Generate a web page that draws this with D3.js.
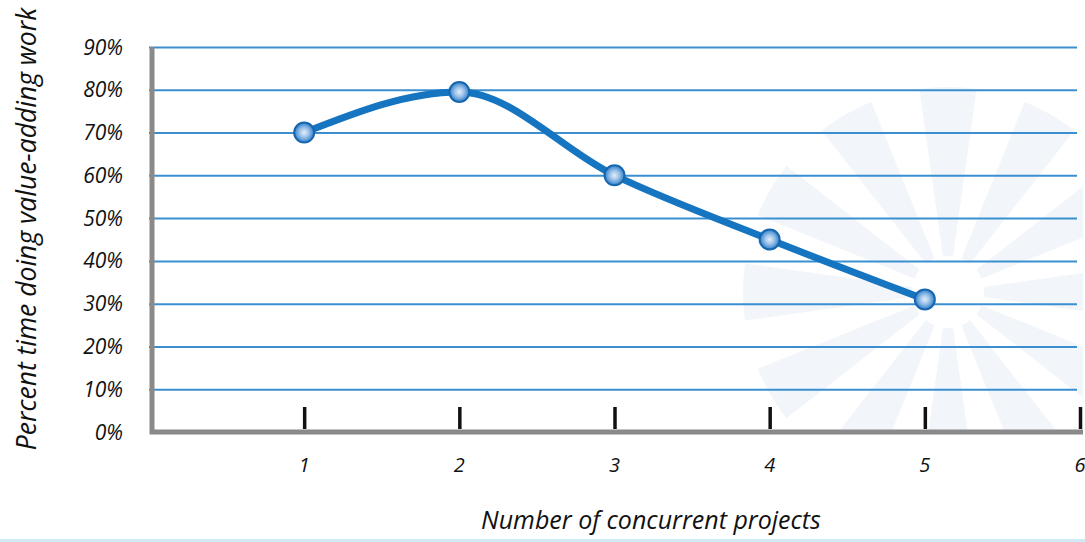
<!DOCTYPE html>
<html>
<head>
<meta charset="utf-8">
<script src="https://cdn.jsdelivr.net/npm/d3@7/dist/d3.min.js"></script>
<style>
  html, body { margin: 0; padding: 0; background: #ffffff; }
  svg { display: block; }
  text { font-family: "Open Sans", "DejaVu Sans", sans-serif; fill: #111; }
</style>
</head>
<body>
<svg id="chart" width="1085" height="542"></svg>
<script>
// Number of concurrent projects vs. share of time spent on value-adding work
const projects = [1, 2, 3, 4, 5];
const valuePct = [70, 79.5, 60, 45, 31];
const xTicks = [1, 2, 3, 4, 5, 6];
const yTicks = [0, 10, 20, 30, 40, 50, 60, 70, 80, 90];
const xTitle = "Number of concurrent projects";
const yTitle = "Percent time doing value-adding work";

const svg = d3.select("#chart");

const x = d3.scaleLinear().domain([0, 6]).range([149, 1080]);
const y = d3.scaleLinear().domain([0, 90]).range([432, 47]);

// Faint starburst emblem in the background
const burst = svg.append("g").attr("transform", "translate(948,292)");
const wedge = d3.arc().innerRadius(36).outerRadius(205);
d3.range(12).forEach(i => {
  const a = i * Math.PI / 6;
  burst.append("path")
    .attr("d", wedge({ startAngle: a - 0.14, endAngle: a + 0.14 }))
    .attr("fill", "#f2f5f9");
});
svg.append("rect").attr("x", 0).attr("y", 434).attr("width", 1085).attr("height", 108).attr("fill", "#fff");
svg.append("rect").attr("x", 1083).attr("y", 0).attr("width", 2).attr("height", 542).attr("fill", "#fff");

// Horizontal gridlines
const grid = svg.append("g")
  .attr("transform", `translate(${x(0)},0)`)
  .call(d3.axisLeft(y).tickValues(yTicks.filter(d => d > 0)).tickSize(-(1077 - x(0))).tickFormat(""));
grid.select(".domain").remove();
grid.selectAll(".tick line").attr("stroke", "#3b8fd0").attr("stroke-width", 2);

// Y tick labels
svg.append("g").selectAll("text")
  .data(yTicks)
  .join("text")
  .attr("x", 123)
  .attr("y", d => y(d))
  .attr("dy", "0.36em")
  .attr("text-anchor", "end")
  .attr("font-size", 21)
  .attr("font-style", "italic")
  .text(d => d + "%");

// X axis with short upright ticks
const xAxis = svg.append("g")
  .attr("transform", `translate(0,${y(0)})`)
  .call(d3.axisTop(x).tickValues(xTicks).tickSize(22).tickFormat(""));
xAxis.select(".domain").remove();
xAxis.selectAll(".tick line").attr("stroke", "#111").attr("stroke-width", 3.5).attr("transform", "translate(0,-3)");

svg.append("g").selectAll("text")
  .data(xTicks)
  .join("text")
  .attr("x", d => x(d))
  .attr("y", 472)
  .attr("text-anchor", "middle")
  .attr("font-size", 20)
  .attr("font-style", "italic")
  .text(d => d);

// Axis frame (left and bottom)
svg.append("path")
  .attr("d", `M${x(0) + 3},${y(90)} L${x(0) + 3},${y(0)} L1083,${y(0)}`)
  .attr("fill", "none")
  .attr("stroke", "#8a8a8a")
  .attr("stroke-width", 5);

// Axis titles
svg.append("text")
  .attr("x", 651)
  .attr("y", 529)
  .attr("text-anchor", "middle")
  .attr("font-size", 25)
  .attr("font-style", "italic")
  .text(xTitle);

svg.append("text")
  .attr("transform", "translate(36,229) rotate(-90)")
  .attr("text-anchor", "middle")
  .attr("font-size", 26.5)
  .attr("font-style", "italic")
  .text(yTitle);

// Data line
const pts = projects.map((p, i) => [p, valuePct[i]]);
const line = d3.line()
  .x(d => x(d[0]))
  .y(d => y(d[1]))
  .curve(d3.curveMonotoneX);

svg.append("path")
  .datum(pts)
  .attr("d", line)
  .attr("fill", "none")
  .attr("stroke", "#1675c0")
  .attr("stroke-width", 7)
  .attr("stroke-linecap", "round");

// Glossy markers
const defs = svg.append("defs");
const grad = defs.append("radialGradient").attr("id", "ball").attr("cx", "50%").attr("cy", "50%").attr("r", "50%");
grad.append("stop").attr("offset", "0%").attr("stop-color", "#e4eefa");
grad.append("stop").attr("offset", "45%").attr("stop-color", "#9fc4ea");
grad.append("stop").attr("offset", "100%").attr("stop-color", "#2f7fc8");

svg.append("g").selectAll("circle")
  .data(pts)
  .join("circle")
  .attr("cx", d => x(d[0]))
  .attr("cy", d => y(d[1]))
  .attr("r", 10)
  .attr("fill", "url(#ball)")
  .attr("stroke", "#1766b0")
  .attr("stroke-width", 2);

// Thin tinted strip along the bottom edge
svg.append("rect").attr("x", 0).attr("y", 539).attr("width", 1085).attr("height", 3).attr("fill", "#cfeaf4");
</script>
</body>
</html>
